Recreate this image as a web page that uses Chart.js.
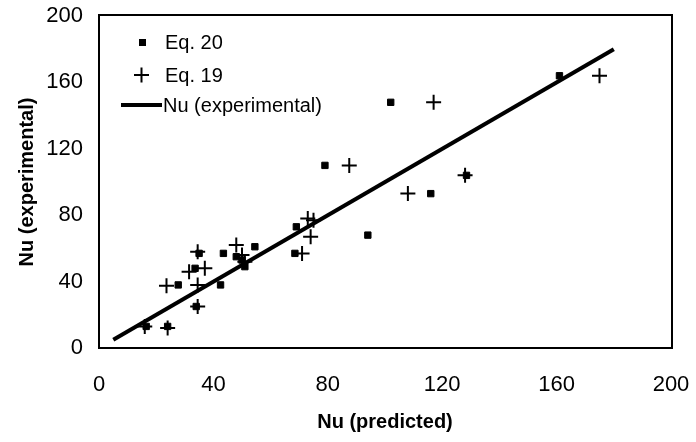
<!DOCTYPE html>
<html>
<head>
<meta charset="utf-8">
<script src="https://cdn.jsdelivr.net/npm/chart.js@4"></script>
<style>
  html, body { margin: 0; padding: 0; background: #fff; }
</style>
</head>
<body>
<canvas id="nuChart" width="696" height="442"></canvas>
<script>
const xTicks = [0, 40, 80, 120, 160, 200];
const yTicks = [0, 40, 80, 120, 160, 200];

// Eq. 20 (squares)
const eq20X = [16.5, 24, 27.7, 42.5, 34, 33.6, 35, 43.5, 48, 50, 51, 54.5, 68.5, 69, 79, 94, 102, 116, 128.5, 161];
const eq20Y = [13, 13, 38, 38, 25, 48, 57, 57, 55, 53, 49, 61, 57, 73, 110, 68, 148, 93, 104, 164];

// Eq. 19 (crosses)
const eq19X = [16, 24, 23.6, 34.5, 34.5, 31.5, 37, 34.5, 48, 50, 51, 71, 74, 73, 75, 87.5, 108, 117, 128, 175];
const eq19Y = [13, 12, 37.5, 38, 25, 46, 48, 58, 62, 56, 52, 57, 67, 78, 77, 110, 93, 148, 104, 164];

// Nu (experimental) line
const expX = [5, 180];
const expY = [5, 180];

const toPoints = (xs, ys) => xs.map((x, i) => ({ x: x, y: ys[i] }));

// drop the label overhang padding so the layout padding decides the plot box
const noOverhang = (s) => {
  s.paddingLeft = 0; s.paddingRight = 0; s.paddingTop = 0; s.paddingBottom = 0;
};

const frame = {
  id: 'frame',
  afterDraw(chart) {
    const { ctx, chartArea: { left, top, right, bottom } } = chart;
    ctx.save();
    ctx.strokeStyle = '#000';
    ctx.lineWidth = 2;
    ctx.strokeRect(left, top - 1, right - left + 1, bottom - top + 1);
    ctx.restore();
  }
};

const insideLegend = {
  id: 'insideLegend',
  afterDraw(chart) {
    const { ctx } = chart;
    const ds = chart.data.datasets;
    ctx.save();
    ctx.fillStyle = '#000';
    ctx.strokeStyle = '#000';
    ctx.font = '20px "Liberation Sans", Arial, sans-serif';
    ctx.textBaseline = 'middle';
    ctx.textAlign = 'left';

    // square
    ctx.fillRect(139, 39, 7, 7);
    ctx.fillText(ds[0].label, 165, 43);

    // cross
    ctx.lineWidth = 2;
    ctx.beginPath();
    ctx.moveTo(134, 75); ctx.lineTo(149, 75);
    ctx.moveTo(141.5, 67.5); ctx.lineTo(141.5, 82.5);
    ctx.stroke();
    ctx.fillText(ds[1].label, 165, 76);

    // line
    ctx.lineWidth = 4;
    ctx.beginPath();
    ctx.moveTo(121, 105); ctx.lineTo(162, 105);
    ctx.stroke();
    ctx.fillText(ds[2].label, 163, 106);
    ctx.restore();
  }
};

new Chart(document.getElementById('nuChart').getContext('2d'), {
  type: 'scatter',
  data: {
    datasets: [
      {
        label: 'Eq. 20',
        data: toPoints(eq20X, eq20Y),
        pointStyle: 'rect',
        pointRadius: 4.5,
        backgroundColor: '#000',
        borderColor: '#000',
        borderWidth: 1,
      },
      {
        label: 'Eq. 19',
        data: toPoints(eq19X, eq19Y),
        pointStyle: 'cross',
        pointRadius: 7.5,
        borderColor: '#000',
        borderWidth: 2,
      },
      {
        label: 'Nu (experimental)',
        type: 'line',
        data: toPoints(expX, expY),
        borderColor: '#000',
        borderWidth: 4,
        pointRadius: 0,
        fill: false,
      }
    ]
  },
  options: {
    responsive: false,
    animation: false,
    layout: { padding: { left: 0, top: 16, right: 25, bottom: 0 } },
    plugins: {
      legend: { display: false },
      tooltip: { enabled: false },
    },
    scales: {
      x: {
        type: 'linear',
        min: 0, max: 200,
        afterBuildTicks: (s) => { s.ticks = xTicks.map(v => ({ value: v })); },
        afterFit: (s) => { s.height = 94; noOverhang(s); },
        grid: { display: false, drawTicks: false },
        border: { display: false },
        ticks: {
          color: '#000',
          padding: 24,
          font: { family: '"Liberation Sans", Arial, sans-serif', size: 22 },
        },
        title: {
          display: true,
          text: 'Nu (predicted)',
          color: '#000',
          padding: { top: 0, bottom: 8 },
          font: { family: '"Liberation Sans", Arial, sans-serif', size: 20, weight: 'bold' },
        }
      },
      y: {
        type: 'linear',
        min: 0, max: 200,
        afterBuildTicks: (s) => { s.ticks = yTicks.map(v => ({ value: v })); },
        afterFit: (s) => { s.width = 99; noOverhang(s); },
        grid: { display: false, drawTicks: false },
        border: { display: false },
        ticks: {
          color: '#000',
          padding: 16,
          font: { family: '"Liberation Sans", Arial, sans-serif', size: 22 },
        },
        title: {
          display: true,
          text: 'Nu (experimental)',
          color: '#000',
          padding: { top: 15, bottom: 0 },
          font: { family: '"Liberation Sans", Arial, sans-serif', size: 20, weight: 'bold' },
        }
      }
    }
  },
  plugins: [frame, insideLegend]
});
</script>
</body>
</html>
